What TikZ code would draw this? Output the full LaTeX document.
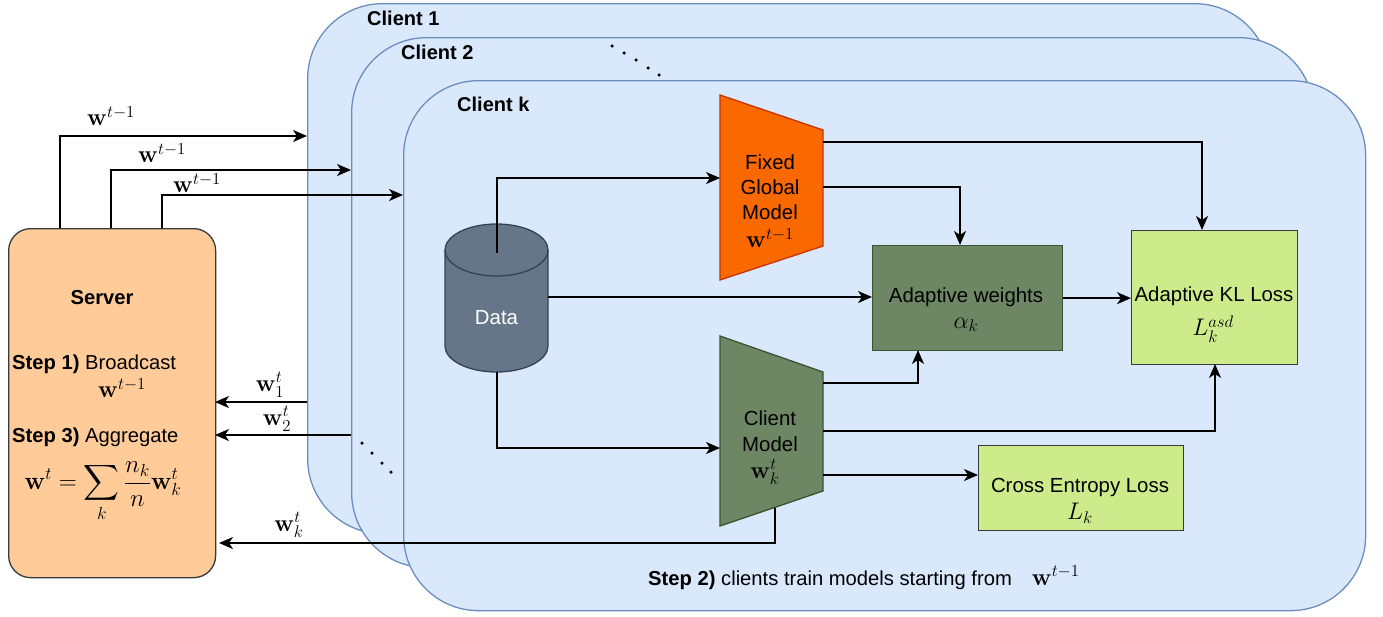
\RequirePackage{fix-cm}
\documentclass[tikz,border=0pt]{standalone}
\usepackage{amsmath}
\usepackage[no-math]{fontspec}
\setmainfont{Liberation Sans}
\usetikzlibrary{arrows.meta,calc}
\definecolor{clfill}{HTML}{DAE8FC}
\definecolor{cldraw}{HTML}{6C8EBF}
\definecolor{srvfill}{HTML}{FFCC99}
\definecolor{dkgray}{HTML}{36393D}
\definecolor{datafill}{HTML}{647687}
\definecolor{datadraw}{HTML}{314354}
\definecolor{orfill}{HTML}{FA6800}
\definecolor{ordraw}{HTML}{C73500}
\definecolor{gnfill}{HTML}{6D8764}
\definecolor{gndraw}{HTML}{3A5431}
\definecolor{lgfill}{HTML}{CDEB8B}
\newcommand{\mfs}{\fontsize{24}{28}\selectfont}
\tikzset{
  clientbox/.style={draw=cldraw, fill=clfill, line width=1.3pt, rounded corners=75pt, minimum width=962pt, minimum height=530pt, anchor=north west, inner sep=0pt},
  cltitle/.style={anchor=west, font=\fontsize{20}{23}\selectfont\bfseries, inner sep=0pt},
  txt/.style={font=\fontsize{20.4}{24}\selectfont, align=center, inner sep=0pt},
  arr/.style={line width=1.5pt, -{Stealth[length=14pt,width=12pt,inset=4pt]}},
  boxg/.style={draw=gndraw, fill=gnfill, line width=1.3pt, inner sep=0pt},
  boxl/.style={draw=dkgray, fill=lgfill, line width=1.3pt, inner sep=0pt},
  dotm/.style={fill=black, inner sep=0pt, minimum size=3.5pt, circle},
  lbl/.style={font=\fontsize{20.2}{23}\selectfont, inner sep=0pt},
  mth/.style={font=\mfs, inner sep=0pt},
}
\begin{document}
\begin{tikzpicture}[x=1pt,y=-1pt]
\useasboundingbox (0,0) rectangle (1383,616);
% clients
\node[clientbox] (cl1) at (307,3) {};
\node[cltitle] (cl1t) at (367,18) {Client 1};
\node[clientbox] (cl2) at (351,37) {};
\node[cltitle] (cl2t) at (401,52) {Client 2};
\node[clientbox] (clk) at (403,80) {};
\node[cltitle] (clkt) at (457,104) {Client k};
% dots
\foreach \i/\x/\y in {1/612/46,2/624/53,3/636/60,4/648/68,5/659/75}
  \node[dotm] (dt\i) at (\x,\y) {};
\foreach \i/\x/\y in {1/362/443,2/372/453,3/382/463,4/391/472}
  \node[dotm] (db\i) at (\x,\y) {};
% server
\node[draw=dkgray, fill=srvfill, line width=1.3pt, rounded corners=22pt, minimum width=207pt, minimum height=349pt, anchor=north west, inner sep=0pt] (server) at (8,228) {};
\node[lbl, font=\fontsize{20.2}{23}\selectfont\bfseries] (srvt) at (102,298) {Server};
\node[lbl, anchor=west] (st1) at (12,364) {\textbf{Step 1)} Broadcast};
\node[mth] (st1w) at (122,388) {$\mathbf{w}^{t-1}$};
\node[lbl, anchor=west] (st3) at (12,437) {\textbf{Step 3)} Aggregate};
\node[mth, font=\fontsize{25}{29}\selectfont] (st3f) at (103,492) {$\displaystyle \mathbf{w}^t=\sum_k \frac{n_k}{n}\mathbf{w}_k^t$};
% data cylinder
\node[minimum width=103pt, minimum height=148pt, inner sep=0pt] (dcyl) at (496.5,298) {};
\path[draw=datadraw, fill=datafill, line width=1.3pt] (445,250) -- (445,346)
  arc[start angle=180,end angle=360,x radius=51.5pt,y radius=26pt] -- (548,250)
  arc[start angle=0,end angle=180,x radius=51.5pt,y radius=26pt] -- cycle;
\draw[draw=datadraw, line width=1.3pt] (445,250) arc[start angle=180,end angle=360,x radius=51.5pt,y radius=26pt];
\node[txt, text=white] (data) at (496.5,318) {Data};
% fixed global model
\filldraw[draw=ordraw, fill=orfill, line width=1.3pt] (720,95) -- (823,130) -- (823,246) -- (720,280) -- cycle;
\node[minimum width=103pt, minimum height=185pt, inner sep=0pt] (fgm) at (771.5,187.5) {};
\node[txt, font=\fontsize{20.4}{25}\selectfont] (fgmt) at (770,187) {Fixed\\Global\\Model};
\node[mth] (fgmw) at (770,238) {$\mathbf{w}^{t-1}$};
% client model
\filldraw[draw=gndraw, fill=gnfill, line width=1.3pt] (720,336) -- (823,372) -- (823,491) -- (720,526) -- cycle;
\node[minimum width=103pt, minimum height=190pt, inner sep=0pt] (cm) at (771.5,431) {};
\node[txt, font=\fontsize{20.4}{26}\selectfont] (cmt) at (770,431) {Client\\Model};
\node[mth] (cmw) at (765,472) {$\mathbf{w}_k^t$};
% boxes
\node[boxg, minimum width=190pt, minimum height=105pt, anchor=north west] (aw) at (872,245) {};
\node[txt] (awt) at (966,297) {Adaptive weights};
\node[mth] (awm) at (966,325) {$\alpha_k$};
\node[boxl, minimum width=166pt, minimum height=134pt, anchor=north west] (kl) at (1131,230) {};
\node[txt] (klt) at (1214,296) {Adaptive KL Loss};
\node[mth] (klm) at (1213,329) {$L_k^{asd}$};
\node[boxl, minimum width=205pt, minimum height=85pt, anchor=north west] (ce) at (978,445) {};
\node[txt] (cet) at (1080,487) {Cross Entropy Loss};
\node[mth] (cem) at (1080,513) {$L_k$};
% step 2 text
\node[lbl, anchor=west] (st2) at (648,578) {\textbf{Step 2)} clients train models starting from\hspace{20pt}{\mfs$\mathbf{w}^{t-1}$}};
% coordinates
\coordinate (s1) at (60,228);
\coordinate (s2) at (111,228);
\coordinate (s3) at (162,228);
\coordinate (c1in) at (307,136);
\coordinate (c2in) at (351,170);
\coordinate (c3in) at (403,195);
\coordinate (r1) at (307,402);
\coordinate (r2) at (351,435);
\coordinate (r1e) at (215,402);
\coordinate (r2e) at (215,435);
\coordinate (cmb) at (775,508);
\coordinate (rke) at (219,543);
\coordinate (dtop) at (497,253);
\coordinate (dbot) at (497,372);
\coordinate (dright) at (548,297);
\coordinate (fgmin) at (720,178);
\coordinate (cmin) at (720,448);
\coordinate (fo1) at (823,142);
\coordinate (fo2) at (823,187);
\coordinate (klt1) at (1202,230);
\coordinate (awt1) at (960,245);
\coordinate (co1) at (823,383);
\coordinate (co2) at (823,431);
\coordinate (co3) at (823,475);
\coordinate (awb) at (918,350);
\coordinate (klb) at (1215,364);
% server -> clients
\draw[arr] (s1) |- (c1in);
\draw[arr] (s2) |- (c2in);
\draw[arr] (s3) |- (c3in);
\node[mth] (l1) at (111,116) {$\mathbf{w}^{t-1}$};
\node[mth] (l2) at (162,153) {$\mathbf{w}^{t-1}$};
\node[mth] (l3) at (197,183) {$\mathbf{w}^{t-1}$};
% clients -> server
\draw[arr] (r1) -- (r1e);
\draw[arr] (r2) -- (r2e);
\draw[arr] (cmb) |- (rke);
\node[mth] (lr1) at (270,385) {$\mathbf{w}_1^t$};
\node[mth] (lr2) at (277,419) {$\mathbf{w}_2^t$};
\node[mth] (lrk) at (289,525) {$\mathbf{w}_k^t$};
% inside client k
\draw[arr] (dtop) |- (fgmin);
\draw[arr] (dbot) |- (cmin);
\draw[arr] (dright) -- (dright -| aw.west);
\draw[arr] (fo1) -| (klt1);
\draw[arr] (fo2) -| (awt1);
\draw[arr] (co1) -| (awb);
\draw[arr] (co2) -| (klb);
\draw[arr] (co3) -- (co3 -| ce.west);
\draw[arr] (aw.east) -- (aw.east -| kl.west);
\end{tikzpicture}
\end{document}
